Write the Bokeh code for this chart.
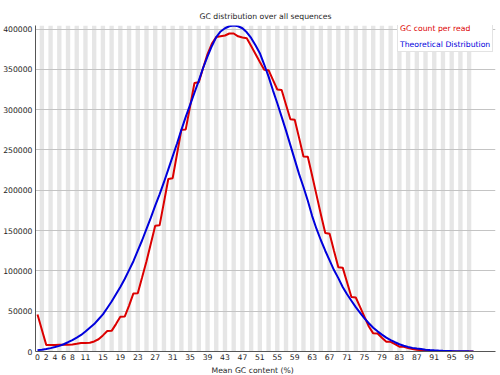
from bokeh.plotting import figure
from bokeh.models import (Range1d, FixedTicker, NumeralTickFormatter, Legend,
                          LegendItem, Title)
from bokeh.embed import file_html
from bokeh.resources import INLINE

# ---- data -------------------------------------------------------------
gc_percent = list(range(101))

gc_count_per_read = [
    46000, 27000, 8200, 8200, 8200, 8300, 8300, 8400, 8600, 9500,
    10500, 10600, 10800, 12500, 15200, 20000, 25500, 25600, 34000, 43000,
    43400, 57000, 72000, 72300, 92000, 112000, 134000, 156000, 156500, 185000,
    214000, 215000, 245000, 275000, 275500, 304000, 333000, 334000, 352000, 369000,
    382000, 390000, 391000, 392000, 394500, 394500, 391000, 389500, 388500, 379000,
    369000, 359000, 349500, 349000, 337000, 325000, 324500, 306000, 288000, 287500,
    265000, 242000, 241500, 218000, 194000, 170000, 147000, 146000, 125000, 104500,
    104000, 86000, 67500, 67000, 55000, 43000, 31000, 22500, 22300, 17000,
    12200, 12000, 9000, 6000, 5800, 4200, 3000, 2200, 1700, 1200,
    900, 700, 500, 350, 250, 180, 120, 80, 50, 30,
    20,
]

theoretical_distribution = [
    1700, 2300, 3000, 4200, 5500, 7000, 9000, 11500, 14200, 17300,
    20500, 24800, 29500, 34000, 40000, 46000, 54000, 62000, 71000, 80000,
    90000, 101000, 112000, 125000, 138000, 152000, 166000, 181000, 195000, 210000,
    226000, 242000, 258000, 275000, 291000, 306000, 321000, 336000, 352000, 366000,
    379000, 390000, 397000, 401000, 403500, 404300, 403500, 401000, 396000, 389000,
    380000, 370000, 356000, 341000, 324000, 308000, 291000, 274000, 256000, 238000,
    220000, 204000, 187000, 168000, 152000, 138000, 125000, 113000, 101000, 91000,
    80000, 71000, 63000, 55000, 48000, 41000, 35000, 29500, 25000, 21000,
    17300, 14200, 11500, 9000, 7200, 5700, 4500, 3600, 3000, 2300,
    1800, 1400, 1100, 850, 650, 500, 380, 290, 220, 160,
    120,
]

x_tick_values = [0, 2, 4, 6, 8, 11, 15, 19, 23, 27, 31, 35, 39, 43, 47, 51,
                 55, 59, 63, 67, 71, 75, 79, 83, 87, 91, 95, 99]
y_tick_values = [0, 50000, 100000, 150000, 200000, 250000, 300000, 350000, 400000]

title_text = "GC distribution over all sequences"
x_label = "Mean GC content (%)"
series_names = ["GC count per read", "Theoretical Distribution"]
series_colors = ["#dc0000", "#0000dc"]

# ---- styling ------------------------------------------------------------
FONT = "DejaVu Sans"
FS = "7.7px"
TXT = "#1e1e1e"
Y_MAX = 404400

p = figure(width=500, height=375, output_backend="svg", toolbar_location=None,
           x_range=Range1d(-0.46, 105.05), y_range=Range1d(0, Y_MAX),
           min_border_left=33, min_border_right=5, min_border_top=25,
           min_border_bottom=24)
p.outline_line_color = None
p.background_fill_color = "white"
p.border_fill_color = "white"

# alternating background stripes (odd bins)
odd_bins = [x for x in gc_percent if x % 2 == 1]
p.quad(left=[x - 0.5 for x in odd_bins], right=[x + 0.5 for x in odd_bins],
       bottom=0, top=Y_MAX, fill_color="#e6e6e6", line_color=None, level="image")

red = p.line(gc_percent, gc_count_per_read, line_color=series_colors[0], line_width=2)
blue = p.line(gc_percent, theoretical_distribution, line_color=series_colors[1], line_width=2)

# title
p.title.text = title_text
p.title.align = "left"
p.title.offset = 164
p.title.text_font = FONT
p.title.text_font_size = FS
p.title.text_font_style = "normal"
p.title.text_color = TXT
p.title.standoff = 9

# axes
xa = p.xaxis[0]
xa.ticker = FixedTicker(ticks=x_tick_values)
ya = p.yaxis[0]
ya.ticker = FixedTicker(ticks=y_tick_values)
ya.formatter = NumeralTickFormatter(format="0")
for ax in (xa, ya):
    ax.major_tick_out = 0
    ax.major_tick_in = 0
    ax.minor_tick_out = 0
    ax.minor_tick_in = 0
    ax.axis_line_color = "#555555"
    ax.axis_line_width = 1
    ax.major_label_text_font = FONT
    ax.major_label_text_font_size = FS
    ax.major_label_text_color = TXT
xa.major_label_standoff = 2
ya.major_label_standoff = 3

p.add_layout(Title(text=x_label, align="left", offset=176, text_font=FONT,
                   text_font_size=FS, text_font_style="normal", text_color=TXT,
                   standoff=2), "below")

p.xgrid.visible = False
p.ygrid.grid_line_color = "#c4c4c4"
p.ygrid.grid_line_width = 1

# legend: red title line + blue item
legend = Legend(items=[LegendItem(label=series_names[1], renderers=[blue])],
                title=series_names[0], location=(362, 299))
legend.title_text_font = FONT
legend.title_text_font_size = FS
legend.title_text_font_style = "normal"
legend.title_text_color = series_colors[0]
legend.title_standoff = 7
legend.label_text_font = FONT
legend.label_text_font_size = FS
legend.label_text_color = series_colors[1]
legend.glyph_width = 0
legend.glyph_height = 9
legend.label_height = 9
legend.label_standoff = 0
legend.padding = 2
legend.spacing = 0
legend.margin = 0
legend.border_line_color = "#c8c8c8"
legend.background_fill_color = "white"
legend.background_fill_alpha = 1
p.add_layout(legend, "center")

open("out.html", "w").write(file_html(p, INLINE))
